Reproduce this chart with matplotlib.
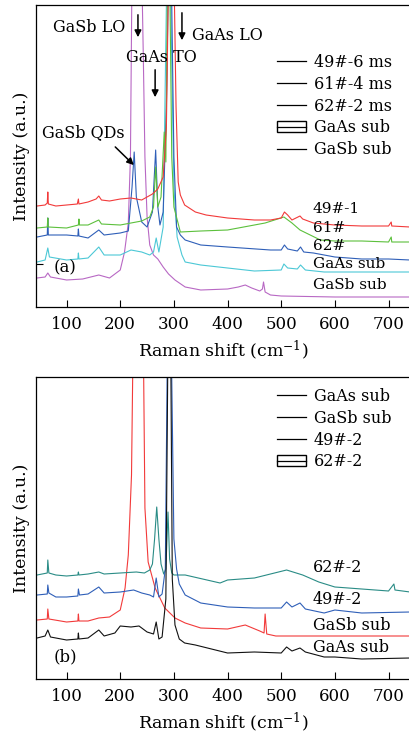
# Raman spectra of GaSb QD samples, panels (a) and (b)

import matplotlib.pyplot as plt
from matplotlib.lines import Line2D
from matplotlib.patches import Patch

plt.rcParams['font.family'] = ['DejaVu Serif']
plt.rcParams['mathtext.fontset'] = 'dejavuserif'

# ---- panel (a) data (intensity in arbitrary units, offset stacked) ----
red_a_x = [45, 60, 64, 65, 66, 80, 100, 120, 122, 123, 140, 155, 160, 165, 180, 200, 220, 240, 250, 260,
           270, 280, 286, 290, 300, 304, 308, 312, 320, 340, 360, 400, 450, 480, 500, 506, 512, 520, 535,
           540, 560, 600, 650, 700, 705, 706, 740]
red_a_y = [101, 102, 104, 115, 103, 101, 102, 103, 108, 103, 105, 108, 111, 107, 106, 108, 109, 107, 110, 113,
           118, 130, 180, 330, 340, 200, 125, 112, 102, 95, 92, 89, 87, 87, 89, 95, 92, 87, 91,
           88, 84, 82, 81, 81, 85, 81, 80]

green_a_x = [45, 64, 65, 66, 100, 122, 123, 124, 140, 160, 165, 200, 220, 240, 255, 262, 266, 270, 276, 282,
             285, 288, 292, 296, 300, 312, 350, 400, 470, 505, 520, 535, 573, 600, 650, 700, 705, 706, 740]
green_a_y = [79, 80, 89, 80, 79, 82, 88, 82, 82, 87, 83, 82, 84, 86, 90, 100, 140, 100, 110, 175,
             145, 320, 340, 150, 100, 75, 76, 77, 84, 90, 84, 77, 67, 66, 66, 65, 70, 65, 65]

blue_a_x = [45, 64, 65, 66, 100, 121, 122, 123, 140, 160, 170, 200, 215, 222, 226, 230, 240, 250, 260, 266,
            270, 274, 280, 286, 290, 295, 300, 305, 312, 321, 350, 400, 480, 500, 506, 512, 530, 536, 542,
            560, 600, 650, 700, 740]
blue_a_y = [70, 72, 89, 72, 72, 71, 78, 71, 69, 77, 72, 74, 76, 120, 155, 110, 85, 80, 95, 157,
            100, 82, 95, 200, 340, 340, 150, 80, 72, 67, 62, 60, 57, 57, 62, 58, 56, 60, 55,
            54, 50, 48, 48, 47]

cyan_a_x = [45, 60, 65, 68, 100, 121, 122, 123, 140, 160, 170, 200, 220, 240, 255, 262, 267, 272, 280, 287,
            293, 300, 306, 315, 321, 350, 400, 450, 500, 505, 512, 530, 536, 545, 580, 740]
cyan_a_y = [45, 47, 59, 50, 47, 48, 54, 48, 49, 60, 52, 52, 57, 55, 52, 55, 69, 55, 80, 340,
            340, 120, 70, 52, 45, 42, 39, 36, 37, 43, 39, 38, 42, 37, 35, 35]

purple_a_x = [45, 60, 65, 70, 100, 130, 160, 180, 200, 208, 215, 219, 222, 240, 243, 246, 250, 255, 262,
              270, 280, 290, 302, 321, 350, 400, 420, 433, 445, 460, 465, 467, 470, 480, 500, 600, 740]
purple_a_y = [29, 30, 34, 30, 27, 28, 32, 29, 37, 55, 84, 150, 340, 340, 250, 150, 90, 62, 52,
              48, 40, 33, 27, 20, 17, 18, 20, 22, 19, 16, 18, 25, 15, 12, 11, 10, 10]

# ---- panel (b) data ----
black_b_x = [45, 60, 65, 70, 100, 121, 122, 123, 140, 160, 170, 190, 200, 220, 235, 250, 262, 267, 272, 278,
             285, 289, 294, 297, 302, 310, 320, 340, 400, 450, 500, 510, 520, 535, 545, 580, 600, 650, 740]
black_b_y = [41, 43, 49, 42, 39, 40, 46, 40, 41, 49, 43, 46, 53, 52, 53, 47, 45, 57, 40, 42,
             80, 340, 340, 100, 54, 40, 36, 34, 26, 27, 26, 32, 28, 31, 27, 22, 22, 20, 21]

red_b_x = [45, 64, 65, 67, 100, 121, 122, 123, 140, 160, 180, 200, 209, 215, 221, 224, 243, 246, 252, 265,
           274, 283, 302, 321, 350, 400, 433, 460, 468, 470, 473, 490, 600, 740]
red_b_y = [59, 60, 70, 60, 57, 58, 65, 58, 58, 61, 62, 69, 91, 124, 204, 340, 340, 171, 117, 91,
           81, 71, 61, 56, 51, 50, 54, 48, 46, 65, 45, 43, 43, 43]

blue_b_x = [45, 64, 65, 67, 80, 100, 121, 122, 124, 140, 160, 170, 200, 225, 240, 255, 262, 267, 272, 278,
            284, 288, 295, 300, 305, 310, 321, 350, 400, 450, 500, 510, 520, 535, 545, 580, 600, 650, 740]
blue_b_y = [84, 85, 94, 86, 82, 82, 83, 90, 84, 85, 92, 86, 87, 89, 86, 84, 82, 101, 82, 85,
            110, 340, 340, 140, 110, 95, 84, 76, 72, 71, 71, 77, 72, 76, 70, 66, 69, 66, 67]

teal_b_x = [45, 64, 65, 67, 80, 100, 121, 122, 123, 140, 160, 170, 200, 230, 245, 255, 260, 264, 268, 272,
            276, 281, 285, 289, 292, 296, 300, 321, 386, 400, 450, 510, 540, 570, 600, 650, 700, 710, 712, 740]
teal_b_y = [104, 106, 119, 106, 104, 103, 104, 107, 104, 105, 107, 105, 106, 107, 106, 109, 115, 140, 172, 140,
            115, 105, 110, 167, 120, 106, 104, 104, 96, 99, 101, 109, 104, 97, 92, 90, 88, 95, 89, 87]

x_ticks = [100, 200, 300, 400, 500, 600, 700]

C_RED = '#f23a3a'
C_GREEN = '#5cc03c'
C_BLUE = '#2f5fb8'
C_CYAN = '#4cc8d6'
C_PURPLE = '#b868c4'
C_BLACK = '#111111'
C_TEAL = '#2a8c86'

W, H = 410, 733
fig = plt.figure(figsize=(W / 100, H / 100), dpi=100)

def px_axes(top, bottom):
    return fig.add_axes([36 / W, 1 - bottom / H, (W - 36) / W, (bottom - top) / H])

ax_a = px_axes(5, 307)
ax_b = px_axes(377, 679)

lw = 0.8
for ax in (ax_a, ax_b):
    ax.set_xlim(43, 740)
    ax.set_ylim(0, 302)
    ax.set_xticks(x_ticks)
    ax.tick_params(axis='x', direction='in', length=5, width=0.8, labelsize=12, pad=6.5)
    ax.tick_params(axis='y', direction='in', length=5, width=0.8, labelleft=False)
    ax.spines['right'].set_visible(False)
    for s in ('left', 'top', 'bottom'):
        ax.spines[s].set_linewidth(0.9)
    ax.set_xlabel('Raman shift (cm$^{-1}$)', fontsize=12.5, labelpad=4)
    ax.set_ylabel('Intensity (a.u.)', fontsize=12.5, labelpad=4)

ax_a.set_yticks([43])
ax_b.set_yticks([])

# panel (a)
ax_a.plot(purple_a_x, purple_a_y, color=C_PURPLE, lw=lw)
ax_a.plot(cyan_a_x, cyan_a_y, color=C_CYAN, lw=lw)
ax_a.plot(blue_a_x, blue_a_y, color=C_BLUE, lw=lw)
ax_a.plot(green_a_x, green_a_y, color=C_GREEN, lw=lw)
ax_a.plot(red_a_x, red_a_y, color=C_RED, lw=lw)

for txt, yy in [('49#-1', 98), ('61#', 79), ('62#', 61), ('GaAs sub', 43), ('GaSb sub', 22)]:
    ax_a.text(559, yy, txt, fontsize=11, ha='left', va='center')

ax_a.text(97, 39, '(a)', fontsize=12, ha='center', va='center')

arrow = dict(arrowstyle='-|>', color='black', lw=1.1, mutation_scale=10)
ax_a.annotate('', xy=(233, 267), xytext=(233, 295), arrowprops=arrow)
ax_a.text(142, 280, 'GaSb LO', fontsize=11.5, ha='center', va='center')
ax_a.annotate('', xy=(315, 264), xytext=(315, 297), arrowprops=arrow)
ax_a.text(334, 272, 'GaAs LO', fontsize=11.5, ha='left', va='center')
ax_a.annotate('', xy=(265, 207), xytext=(265, 240), arrowprops=arrow)
ax_a.text(276, 249, 'GaAs TO', fontsize=11.5, ha='center', va='center')
ax_a.annotate('', xy=(229, 140), xytext=(187, 162), arrowprops=arrow)
ax_a.text(132, 174, 'GaSb QDs', fontsize=11.5, ha='center', va='center')

box_line = (Patch(facecolor='none', edgecolor='black', lw=1.0),
            Line2D([], [], color='black', lw=0.9))
h_a = [Line2D([], [], color='black', lw=0.9) for _ in range(3)] + [box_line, Line2D([], [], color='black', lw=0.9)]
ax_a.legend(h_a, ['49#-6 ms', '61#-4 ms', '62#-2 ms', 'GaAs sub', 'GaSb sub'],
            loc='upper left', bbox_to_anchor=(277 / W, 1 - 54 / H), bbox_transform=fig.transFigure,
            frameon=False, fontsize=11.5, borderpad=0, borderaxespad=0, handlelength=1.8,
            handletextpad=0.5, labelspacing=0.3)

# panel (b)
ax_b.plot(red_b_x, red_b_y, color=C_RED, lw=lw)
ax_b.plot(teal_b_x, teal_b_y, color=C_TEAL, lw=lw)
ax_b.plot(blue_b_x, blue_b_y, color=C_BLUE, lw=lw)
ax_b.plot(black_b_x, black_b_y, color=C_BLACK, lw=lw)

for txt, yy in [('62#-2', 111), ('49#-2', 79), ('GaSb sub', 54), ('GaAs sub', 31)]:
    ax_b.text(559, yy, txt, fontsize=11.5, ha='left', va='center')

ax_b.text(97, 22, '(b)', fontsize=12, ha='center', va='center')

h_b = [Line2D([], [], color='black', lw=0.9) for _ in range(3)] + [box_line]
ax_b.legend(h_b, ['GaAs sub', 'GaSb sub', '49#-2', '62#-2'],
            loc='upper left', bbox_to_anchor=(277 / W, 1 - 388 / H), bbox_transform=fig.transFigure,
            frameon=False, fontsize=11.5, borderpad=0, borderaxespad=0, handlelength=1.8,
            handletextpad=0.5, labelspacing=0.3)

fig.savefig('out.png', dpi=100)
